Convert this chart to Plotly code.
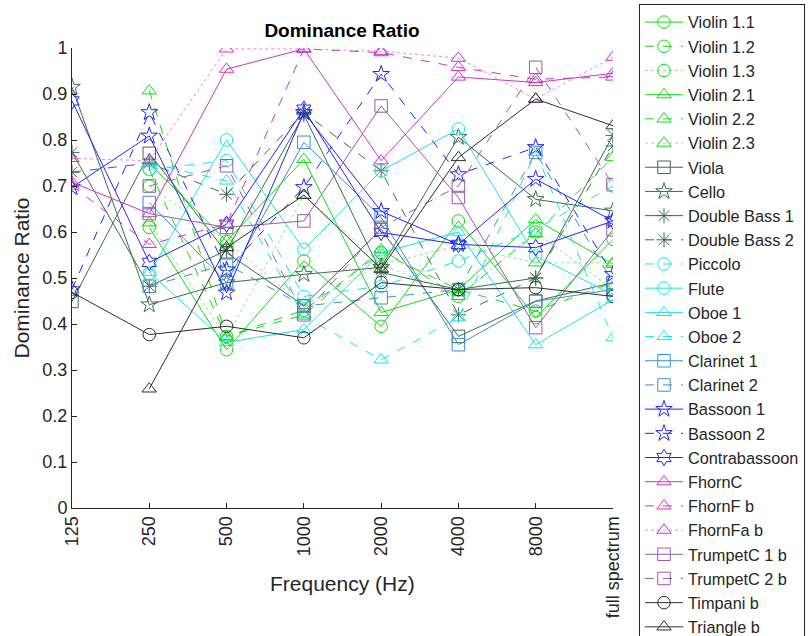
import plotly.graph_objects as go

freq_labels = ["125", "250", "500", "1000", "2000", "4000", "8000", "full spectrum"]

violin_1_1 = [None, 0.61, 0.344, 0.537, 0.395, 0.624, 0.414, 0.584]
violin_1_2 = [None, 0.736, 0.373, 0.43, 0.555, 0.475, 0.428, 0.49]
violin_1_3 = [None, 0.70, 0.58, 0.44, 0.53, 0.46, 0.60, 0.475]
violin_2_1 = [None, 0.75, 0.58, 0.758, 0.425, 0.475, 0.627, 0.53]
violin_2_2 = [None, 0.907, 0.373, 0.42, 0.562, 0.46, 0.597, 0.762]
violin_2_3 = [None, 0.62, 0.37, 0.68, 0.53, 0.57, 0.533, 0.533]
viola = [0.449, 0.771, 0.555, 0.44, 0.606, 0.373, 0.45, 0.49]
cello = [0.915, 0.442, 0.49, 0.508, 0.523, 0.806, 0.671, 0.646]
double_bass_1 = [0.773, 0.482, 0.56, 0.855, 0.512, 0.475, 0.50, 0.81]
double_bass_2 = [0.73, 0.75, 0.682, 0.86, 0.733, 0.42, 0.50, 0.787]
piccolo = [None, 0.736, 0.755, 0.46, 0.482, 0.537, 0.606, 0.70]
flute = [None, 0.51, 0.80, 0.562, 0.733, 0.824, 0.548, 0.464]
oboe_1 = [None, 0.512, 0.36, 0.388, 0.555, 0.60, 0.355, 0.453]
oboe_2 = [None, 0.75, 0.711, 0.417, 0.322, 0.414, 0.773, 0.370]
clarinet_1 = [None, 0.664, 0.49, 0.795, 0.632, 0.355, 0.449, 0.475]
clarinet_2 = [None, 0.482, 0.53, 0.439, 0.457, 0.475, 0.773, 0.49]
bassoon_1 = [0.697, 0.809, 0.468, 0.86, 0.645, 0.573, 0.715, 0.624]
bassoon_2 = [0.475, 0.86, 0.518, 0.697, 0.943, 0.725, 0.784, 0.508]
contrabassoon = [0.885, 0.534, 0.617, 0.867, 0.599, 0.573, 0.566, 0.624]
fhorn_c = [0.708, 0.64, 0.954, 0.998, 0.755, 0.937, 0.925, 0.945]
fhorn_f_b = [0.70, 0.573, 0.617, 0.998, 0.99, 0.958, 0.932, 0.937]
fhorn_fa_b = [0.76, 0.755, 0.998, 0.998, 0.993, 0.978, 0.889, 0.98]
trumpet_c1_b = [None, 0.64, 0.61, 0.624, 0.874, 0.675, 0.392, 0.605]
trumpet_c2_b = [None, 0.70, 0.744, 0.42, 0.61, 0.70, 0.958, 0.703]
timpani_b = [0.469, 0.377, 0.395, 0.370, 0.49, 0.475, 0.479, 0.46]
triangle_b = [None, 0.259, 0.566, 0.68, 0.52, 0.762, 0.889, 0.831]

GREEN = "#10dd10"
GREEN_L = "#8fe88f"
DKGREEN = "#3f6a52"
CYAN = "#14e6ec"
STEEL = "#3b8fd2"
BLUE = "#2424f0"
MAG = "#cc33cc"
MAG_L = "#e48ae4"
PURPLE = "#9a5aa8"
BLACK = "#2e2e2e"

series = [
    ("Violin 1.1", violin_1_1, GREEN, GREEN, "solid", "circle-open"),
    ("Violin 1.2", violin_1_2, GREEN, GREEN, "dash", "circle-open"),
    ("Violin 1.3", violin_1_3, GREEN_L, GREEN, "dot", "circle-open"),
    ("Violin 2.1", violin_2_1, GREEN, GREEN, "solid", "triangle-up-open"),
    ("Violin 2.2", violin_2_2, GREEN, GREEN, "dash", "triangle-up-open"),
    ("Violin 2.3", violin_2_3, GREEN_L, GREEN, "dot", "triangle-up-open"),
    ("Viola", viola, DKGREEN, DKGREEN, "solid", "square-open"),
    ("Cello", cello, DKGREEN, DKGREEN, "solid", "star-open"),
    ("Double Bass 1", double_bass_1, DKGREEN, DKGREEN, "solid", "asterisk-open"),
    ("Double Bass 2", double_bass_2, DKGREEN, DKGREEN, "dash", "asterisk-open"),
    ("Piccolo", piccolo, CYAN, CYAN, "dash", "circle-open"),
    ("Flute", flute, CYAN, CYAN, "solid", "circle-open"),
    ("Oboe 1", oboe_1, CYAN, CYAN, "solid", "triangle-up-open"),
    ("Oboe 2", oboe_2, CYAN, CYAN, "dash", "triangle-up-open"),
    ("Clarinet 1", clarinet_1, STEEL, STEEL, "solid", "square-open"),
    ("Clarinet 2", clarinet_2, STEEL, STEEL, "dash", "square-open"),
    ("Bassoon 1", bassoon_1, BLUE, BLUE, "solid", "star-open"),
    ("Bassoon 2", bassoon_2, BLUE, BLUE, "dash", "star-open"),
    ("Contrabassoon", contrabassoon, BLUE, BLUE, "solid", "hexagram-open"),
    ("FhornC", fhorn_c, MAG, MAG, "solid", "triangle-up-open"),
    ("FhornF b", fhorn_f_b, MAG, MAG, "dash", "triangle-up-open"),
    ("FhornFa b", fhorn_fa_b, MAG_L, MAG, "dot", "triangle-up-open"),
    ("TrumpetC 1 b", trumpet_c1_b, PURPLE, PURPLE, "solid", "square-open"),
    ("TrumpetC 2 b", trumpet_c2_b, PURPLE, PURPLE, "dash", "square-open"),
    ("Timpani b", timpani_b, BLACK, BLACK, "solid", "circle-open"),
    ("Triangle b", triangle_b, BLACK, BLACK, "solid", "triangle-up-open"),
]

FONT = "Liberation Sans, Arial, Helvetica, sans-serif"

fig = go.Figure()
for name, vals, lcol, mcol, dash, sym in series:
    fig.add_trace(go.Scatter(
        x=freq_labels, y=vals, name=name, mode="lines+markers",
        line=dict(color=lcol, width=1, dash=dash),
        marker=dict(symbol=sym, size=12.5, color=mcol, line=dict(color=mcol, width=1)),
        connectgaps=False,
    ))

fig.update_layout(
    width=809, height=636,
    margin=dict(l=72, r=196, t=48, b=128, autoexpand=False),
    paper_bgcolor="white", plot_bgcolor="white",
    font=dict(family=FONT, color="#262626", size=16),
    title=dict(text="<b>Dominance Ratio</b>", x=342 / 809, xanchor="center",
               y=1 - 30 / 636, yanchor="middle", font=dict(size=19, color="black")),
    showlegend=True,
    legend=dict(
        x=(639 - 72) / 541, xanchor="left", y=(508 - 4) / 460, yanchor="top",
        bordercolor="#262626", borderwidth=1, bgcolor="white",
        font=dict(size=16.3, color="#262626", family=FONT),
        tracegroupgap=0, itemwidth=38, maxheight=700,
    ),
    annotations=[dict(
        text="Frequency (Hz)", xref="paper", yref="paper", x=0.5, xanchor="center",
        y=-(583 - 508) / 460, yanchor="middle", showarrow=False,
        font=dict(size=21, color="#262626", family=FONT),
    )],
)
fig.update_xaxes(
    type="category", categoryorder="array", categoryarray=freq_labels,
    range=[0, 7], tickangle=-90, ticks="inside", ticklen=5, tickcolor="#262626",
    showline=True, linecolor="#262626", linewidth=1, showgrid=False, zeroline=False,
    tickfont=dict(size=18, color="#262626"),
)
fig.update_yaxes(
    range=[0, 1], tickvals=[0, 0.1, 0.2, 0.3, 0.4, 0.5, 0.6, 0.7, 0.8, 0.9, 1],
    ticktext=["0", "0.1", "0.2", "0.3", "0.4", "0.5", "0.6", "0.7", "0.8", "0.9", "1"],
    ticks="inside", ticklen=5, tickcolor="#262626",
    showline=True, linecolor="#262626", linewidth=1, showgrid=False, zeroline=False,
    tickfont=dict(size=18, color="#262626"),
    title=dict(text="Dominance Ratio", font=dict(size=21, color="#262626"), standoff=7),
)

fig.write_html("out.html", post_script="document.body.style.margin='0';",
               config={"displayModeBar": False})
